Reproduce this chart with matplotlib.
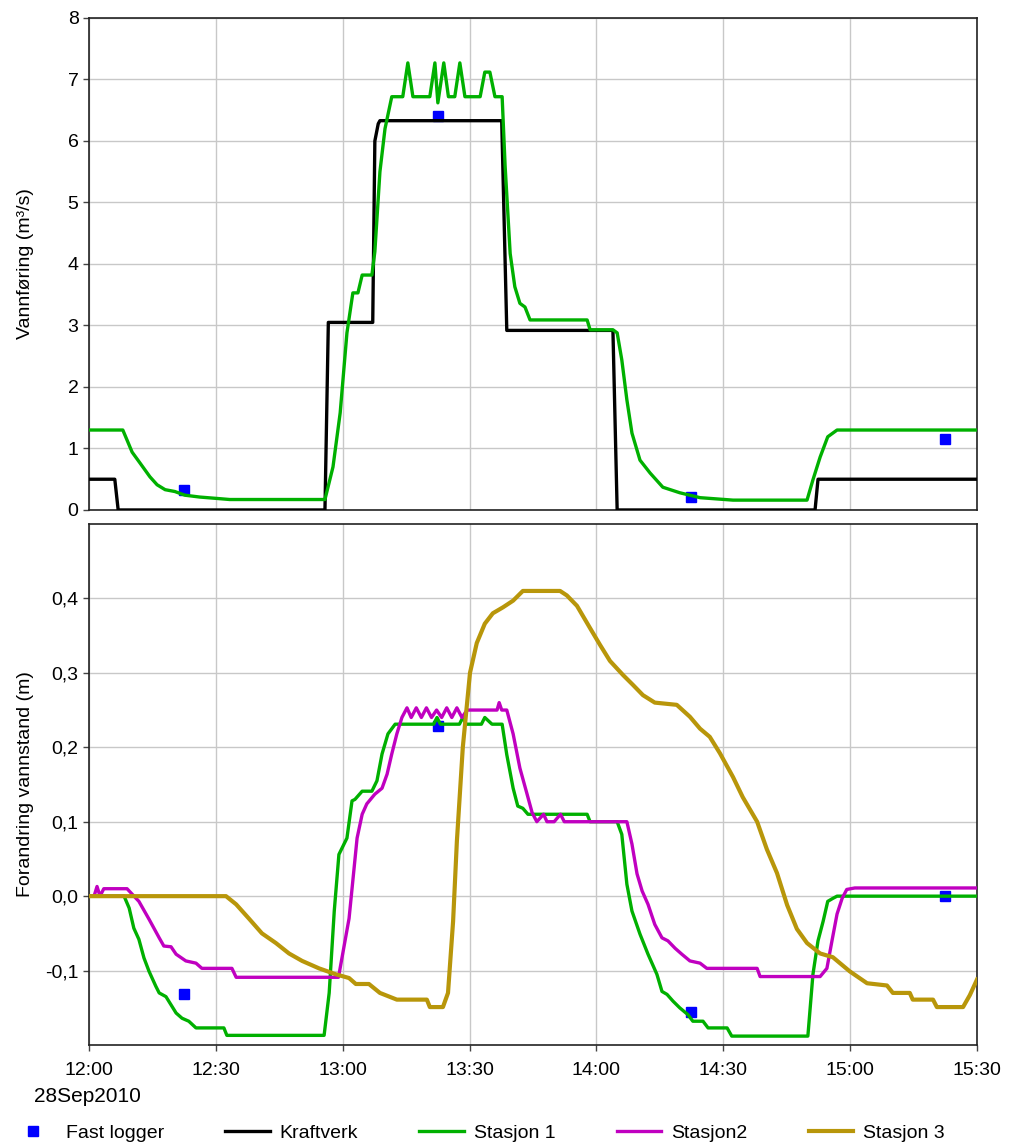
import matplotlib
matplotlib.use("Agg")
import matplotlib.pyplot as plt
from matplotlib.lines import Line2D

plt.rcParams['font.family'] = ['Liberation Sans', 'DejaVu Sans']
plt.rcParams['font.size'] = 14

# --- data (minutes after 12:00, 28 Sep 2010) ---
tick_min = [0, 30, 60, 90, 120, 150, 180, 210]
tick_lbl = ['12:00', '12:30', '13:00', '13:30', '14:00', '14:30', '15:00', '15:30']

logger_t = [22.5, 82.5, 142.3, 202.4]
logger_q = [0.33, 6.40, 0.21, 1.15]
logger_h = [-0.131, 0.229, -0.155, 0.0]

kraft_t = [0, 6.1, 6.9, 55.8, 56.6, 67.1, 67.6, 68.4, 68.8, 97.6, 98.8, 123.9, 124.9,
           171.7, 172.4, 210]
kraft_q = [0.5, 0.5, 0.0, 0.0, 3.05, 3.05, 6.0, 6.28, 6.33, 6.33, 2.92, 2.92, 0.0,
           0.0, 0.5, 0.5]

st1q_t = [0, 8, 10.2, 12.1, 14.4, 16.1, 18, 20.3, 22.7, 26.2, 29.8, 33.3, 55.8, 57.7,
          59.4, 61, 62.4, 63.6, 64.6, 66.9, 67.6, 68.8, 70, 71.6, 74.2, 75.4, 76.6,
          80.6, 81.8, 82.5, 83.9, 85, 86.5, 87.7, 88.9, 92.5, 93.6, 94.8, 96, 97.7,
          98.4, 99.6, 100.7, 101.9, 103.1, 104.3, 117.8, 118.5, 123.9, 124.9, 126,
          127.2, 128.4, 130.3, 132.7, 135.7, 139.7, 144.5, 152.3, 169.8, 171.2, 172.9,
          174.7, 176.9, 210]
st1q_v = [1.3, 1.3, 0.94, 0.76, 0.54, 0.41, 0.33, 0.3, 0.24, 0.21, 0.19, 0.17, 0.17, 0.7,
          1.58, 2.88, 3.53, 3.53, 3.82, 3.82, 4.2, 5.5, 6.2, 6.72, 6.72, 7.27, 6.72,
          6.72, 7.27, 6.62, 7.27, 6.72, 6.72, 7.27, 6.72, 6.72, 7.12, 7.12, 6.72, 6.72,
          5.6, 4.17, 3.63, 3.36, 3.3, 3.09, 3.09, 2.93, 2.93, 2.88, 2.44,
          1.79, 1.25, 0.81, 0.6, 0.37, 0.28, 0.2, 0.16, 0.16, 0.49, 0.86,
          1.19, 1.3, 1.3]

st1h_t = [0, 8.3, 9.5, 10.6, 11.8, 13.0, 14.2, 15.8, 16.6, 18.2, 19.4, 20.6, 22.0, 23.6,
          25.3, 31.9, 32.6, 55.6, 56.8, 58.0, 59.1, 61.0, 62.2, 62.9, 64.6, 66.9, 68.1,
          69.3, 70.7, 72.4, 81.5, 82.3, 83.1, 87.6, 88.4, 89.2, 92.8, 93.6, 95.3, 97.7,
          98.8, 100.3, 101.4, 102.6, 103.8, 117.8, 118.5, 124.9, 126.0, 127.2, 128.4,
          130.3, 132.2, 134.3, 135.5, 136.7, 138.1, 139.7, 141.6, 142.8, 145.2, 146.4,
          150.9, 152.0, 170.0, 171.2, 172.4, 173.6, 174.7, 175.9, 176.9, 210]
st1h_v = [0, 0, -0.016, -0.043, -0.058, -0.083, -0.101, -0.121, -0.13, -0.135, -0.146,
          -0.157, -0.164, -0.168, -0.177, -0.177, -0.187, -0.187, -0.13, -0.02, 0.056,
          0.078, 0.128, 0.13, 0.141, 0.141, 0.155, 0.191, 0.218, 0.231, 0.231, 0.24,
          0.231, 0.231, 0.24, 0.231, 0.231, 0.24, 0.231, 0.231, 0.19, 0.145, 0.121,
          0.118, 0.11, 0.11, 0.10, 0.10, 0.083, 0.016, -0.02, -0.051, -0.078, -0.105,
          -0.128, -0.132, -0.141, -0.15, -0.159, -0.168, -0.168, -0.177, -0.177, -0.188,
          -0.188, -0.105, -0.06, -0.034, -0.007, -0.003, 0.0, 0.0]

st2h_t = [0, 1.2, 1.9, 2.6, 3.5, 9.0, 11.8, 14.2, 16.6, 17.7, 19.4, 20.6, 22.9, 25.3,
          26.7, 33.8, 34.8, 59.0, 61.5, 63.4, 64.6, 65.7, 67.6, 69.3, 70.5, 71.6, 72.8,
          74.0, 75.2, 76.2, 77.4, 78.6, 79.8, 81.0, 82.2, 83.4, 84.6, 85.8, 87.0, 88.2,
          89.4, 96.5, 97.0, 97.6, 98.8, 100.3, 101.9, 103.6, 104.8, 105.9, 107.5, 108.3,
          110.0, 111.5, 112.4, 114.2, 127.2, 128.4, 129.6, 130.8, 132.2, 133.8, 135.5,
          136.9, 138.6, 140.2, 142.1, 144.5, 146.1, 158.0, 158.7, 172.9, 174.5, 175.7,
          176.9, 178.1, 179.2, 181.1, 210]
st2h_v = [0, 0, 0.013, 0, 0.01, 0.01, -0.007, -0.031, -0.056, -0.067, -0.068, -0.078,
          -0.087, -0.09, -0.097, -0.097, -0.109, -0.109, -0.03, 0.078, 0.11, 0.124,
          0.137, 0.145, 0.164, 0.191, 0.218, 0.24, 0.253, 0.24, 0.253, 0.24, 0.253,
          0.24, 0.25, 0.24, 0.253, 0.24, 0.253, 0.24, 0.25, 0.25, 0.26, 0.25, 0.25,
          0.218, 0.172, 0.137, 0.112, 0.10, 0.11, 0.10, 0.10, 0.11, 0.10, 0.10, 0.10,
          0.07, 0.03, 0.007, -0.011, -0.038, -0.056, -0.06, -0.07, -0.078, -0.087,
          -0.09, -0.097, -0.097, -0.108, -0.108, -0.097, -0.06, -0.024, -0.003, 0.009,
          0.011, 0.011]

st3h_t = [0, 32.4, 34.8, 37.8, 40.9, 44.2, 47.3, 50.4, 54.4, 58.4, 61.5, 63.1, 66.2,
          68.8, 72.8, 79.9, 80.6, 83.7, 84.9, 86.1, 87.0, 88.4, 90.1, 91.7, 93.6, 95.5,
          97.9, 100.3, 102.6, 111.4, 113.0, 115.4, 118.5, 120.8, 123.2, 126.3, 128.6,
          131.0, 133.8, 139.0, 142.1, 144.5, 146.8, 149.2, 152.3, 154.6, 158.0, 160.3,
          162.7, 165.1, 167.4, 169.8, 172.9, 175.9, 179.9, 184.0, 188.7, 190.1, 194.1,
          194.8, 199.6, 200.5, 206.7, 208.3, 210]
st3h_v = [0, 0, -0.011, -0.03, -0.05, -0.063, -0.077, -0.087, -0.097, -0.105, -0.11,
          -0.118, -0.118, -0.13, -0.139, -0.139, -0.149, -0.149, -0.13, -0.034, 0.074,
          0.2, 0.3, 0.34, 0.366, 0.38, 0.388, 0.397, 0.41, 0.41, 0.404, 0.39, 0.36,
          0.338, 0.316, 0.297, 0.284, 0.27, 0.26, 0.257, 0.241, 0.225, 0.214, 0.192,
          0.16, 0.133, 0.1, 0.063, 0.031, -0.012, -0.044, -0.063, -0.077, -0.082,
          -0.101, -0.117, -0.12, -0.13, -0.13, -0.139, -0.139, -0.149, -0.149, -0.133,
          -0.112]

BLUE = '#0000ff'
GREEN = '#00b000'
MAGENTA = '#c000c0'
GOLD = '#b8960a'
GRID = '#c8c8c8'

fig = plt.figure(figsize=(10.09, 11.46), dpi=100)
ax1 = fig.add_axes([0.0882, 0.555, 0.8801, 0.4293])
ax2 = fig.add_axes([0.0882, 0.0881, 0.8801, 0.4547])

for ax in (ax1, ax2):
    ax.set_xlim(0, 210)
    ax.set_xticks(tick_min)
    ax.grid(True, color=GRID, linewidth=1.0)
    ax.set_axisbelow(True)
    for sp in ax.spines.values():
        sp.set_linewidth(1.2)
        sp.set_color('#222222')
    ax.tick_params(direction='out', length=4, width=1, color='#444444', labelsize=14)

# top: discharge
ax1.plot(logger_t, logger_q, 's', color=BLUE, markersize=7, zorder=2)
ax1.plot(kraft_t, kraft_q, color='black', linewidth=2.4, zorder=3)
ax1.plot(st1q_t, st1q_v, color=GREEN, linewidth=2.4, zorder=4)
ax1.set_ylim(0, 8)
ax1.set_yticks(range(0, 9))
ax1.tick_params(axis='x', length=0, labelbottom=False)
ax1.set_ylabel('Vannføring (m³/s)', fontsize=14)
ax1.yaxis.set_label_coords(-0.062, 0.5)

# bottom: water level change
ax2.plot(logger_t, logger_h, 's', color=BLUE, markersize=7, zorder=2)
ax2.plot(st1h_t, st1h_v, color=GREEN, linewidth=2.4, zorder=3)
ax2.plot(st2h_t, st2h_v, color=MAGENTA, linewidth=2.4, zorder=4)
ax2.plot(st3h_t, st3h_v, color=GOLD, linewidth=3.0, zorder=5)
ax2.set_ylim(-0.2, 0.5)
yt = [-0.1, 0.0, 0.1, 0.2, 0.3, 0.4]
ax2.set_yticks(yt)
ax2.set_yticklabels([f'{v:.1f}'.replace('.', ',') for v in yt])
ax2.set_xticklabels(tick_lbl)
ax2.tick_params(axis='x', pad=8)
ax2.set_ylabel('Forandring vannstand (m)', fontsize=14)
ax2.yaxis.set_label_coords(-0.062, 0.5)

fig.text(0.034, 0.043, '28Sep2010', fontsize=15, va='center', ha='left')

handles = [
    Line2D([], [], linestyle='none', marker='s', color=BLUE, markersize=7),
    Line2D([], [], color='black', linewidth=2.4),
    Line2D([], [], color=GREEN, linewidth=2.4),
    Line2D([], [], color=MAGENTA, linewidth=2.4),
    Line2D([], [], color=GOLD, linewidth=3.0),
]
labels = ['Fast logger', 'Kraftverk', 'Stasjon 1', 'Stasjon2', 'Stasjon 3']
fig.legend(handles, labels, loc='center left', bbox_to_anchor=(0.011, 0.011), ncol=5,
           frameon=False, fontsize=14, handlelength=2.3, handletextpad=0.5,
           columnspacing=3.15, borderaxespad=0, borderpad=0)

fig.savefig('out.png', dpi=100)
